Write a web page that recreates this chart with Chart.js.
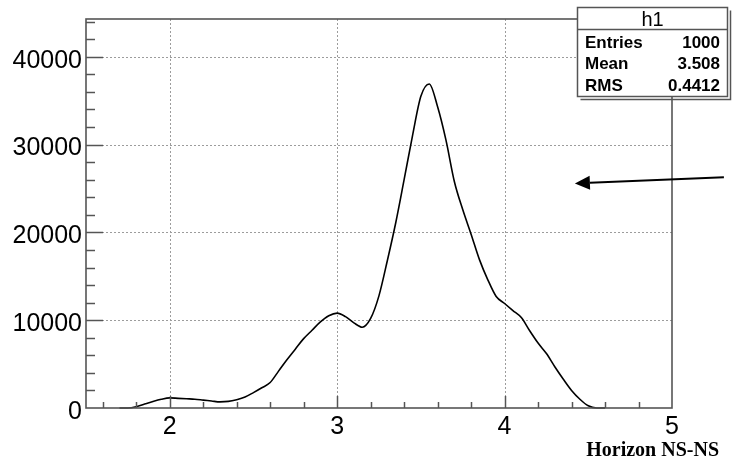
<!DOCTYPE html>
<html>
<head>
<meta charset="utf-8">
<script src="https://cdn.jsdelivr.net/npm/chart.js@4/dist/chart.umd.min.js"></script>
<style>
html,body{margin:0;padding:0;background:#fff;}
#wrap{width:733px;height:472px;position:relative;}
</style>
</head>
<body>
<div id="wrap"><canvas id="c" width="733" height="472"></canvas></div>
<script>
// ---- data ----
const xValues = [1.70,1.75,1.80,1.85,1.90,1.95,2.00,2.05,2.10,2.15,2.20,2.25,2.30,2.35,2.40,2.45,2.50,2.55,2.60,2.65,
  2.70,2.75,2.80,2.85,2.90,2.95,3.00,3.05,3.10,3.15,3.20,3.25,3.30,3.35,3.40,3.45,3.50,3.55,3.60,3.65,
  3.70,3.75,3.80,3.85,3.90,3.95,4.00,4.05,4.10,4.15,4.20,4.25,4.30,4.35,4.40,4.45,4.50,4.55,4.60];
const counts = [0,0,150,450,750,1000,1150,1100,1050,1000,900,800,700,750,950,1250,1750,2300,2900,4200,
  5500,6700,7900,8850,9800,10500,10800,10400,9700,9200,10200,12800,16800,21100,26000,31000,35500,36900,34300,30500,
  25800,22600,19800,16900,14600,12700,11900,11100,10300,8800,7400,6200,4700,3300,2000,1000,250,0,0];
const xTickLabels = ['2','3','4','5'];
const yTickLabels = ['0','10000','20000','30000','40000'];
const xRange = [1.5, 5];
const yRange = [0, 44300];
const axisTitle = 'Horizon NS-NS';
const statsTitle = 'h1';
const statsNames = ['Entries','Mean','RMS'];
const statsValues = ['1000','3.508','0.4412'];
const arrowFrom = [5.31, 26270];
const arrowTo = [4.42, 25580];

const rootPlugin = {
  id: 'rootStyle',
  beforeDatasetsDraw(chart) {
    const {ctx, chartArea: a, scales: {x, y}} = chart;
    ctx.save();
    ctx.strokeStyle = '#9c9c9c';
    ctx.lineWidth = 1;
    ctx.setLineDash([2, 2]);
    xTickLabels.forEach(l => {
      const v = +l;
      if (v <= x.min || v >= x.max) return;
      const px = Math.round(x.getPixelForValue(v)) + 0.5;
      ctx.beginPath(); ctx.moveTo(px, a.top); ctx.lineTo(px, a.bottom); ctx.stroke();
    });
    yTickLabels.forEach(l => {
      const v = +l;
      if (v <= y.min || v >= y.max) return;
      const py = Math.round(y.getPixelForValue(v)) + 0.5;
      ctx.beginPath(); ctx.moveTo(a.left, py); ctx.lineTo(a.right, py); ctx.stroke();
    });
    ctx.restore();
  },
  afterDatasetsDraw(chart) {
    const {ctx, chartArea: a, scales: {x, y}} = chart;
    ctx.save();
    // tick marks (inside)
    ctx.strokeStyle = '#555';
    ctx.lineWidth = 1.5;
    ctx.setLineDash([]);
    for (let k = 7; k <= 25; k++) {
      const v = k * 0.2;
      if (v <= x.min + 1e-9 || v >= x.max - 1e-9) continue;
      const major = Math.abs(v - Math.round(v)) < 1e-6;
      const px = Math.round(x.getPixelForValue(v)) + 0.5;
      ctx.beginPath(); ctx.moveTo(px, a.bottom); ctx.lineTo(px, a.bottom - (major ? 12 : 6)); ctx.stroke();
    }
    for (let k = 1; k <= 22; k++) {
      const v = k * 2000;
      if (v >= y.max) continue;
      const major = v % 10000 === 0;
      const py = Math.round(y.getPixelForValue(v)) + 0.5;
      ctx.beginPath(); ctx.moveTo(a.left, py); ctx.lineTo(a.left + (major ? 17 : 9), py); ctx.stroke();
    }
    // frame
    ctx.lineWidth = 1.6;
    ctx.strokeStyle = '#555';
    ctx.strokeRect(a.left, a.top, a.right - a.left, a.bottom - a.top);

    // arrow annotation
    const x0 = x.getPixelForValue(arrowFrom[0]), y0 = y.getPixelForValue(arrowFrom[1]);
    const x1 = x.getPixelForValue(arrowTo[0]), y1 = y.getPixelForValue(arrowTo[1]);
    const ang = Math.atan2(y1 - y0, x1 - x0);
    const hl = 15, hw = 7;
    const bx = x1 - hl * Math.cos(ang), by = y1 - hl * Math.sin(ang);
    ctx.strokeStyle = '#000'; ctx.fillStyle = '#000'; ctx.lineWidth = 2;
    ctx.beginPath(); ctx.moveTo(x0, y0); ctx.lineTo(bx, by); ctx.stroke();
    ctx.beginPath();
    ctx.moveTo(x1, y1);
    ctx.lineTo(bx + hw * Math.sin(ang), by - hw * Math.cos(ang));
    ctx.lineTo(bx - hw * Math.sin(ang), by + hw * Math.cos(ang));
    ctx.closePath(); ctx.fill();

    // stats box
    const bx0 = 577.5, by0 = 7.5, bx1 = 727.5, by1 = 96.5;
    ctx.strokeStyle = '#555'; ctx.lineWidth = 1.5;
    ctx.beginPath(); ctx.moveTo(bx1 + 3, by0 + 3); ctx.lineTo(bx1 + 3, by1 + 3); ctx.lineTo(bx0 + 3, by1 + 3); ctx.stroke();
    ctx.fillStyle = '#fff';
    ctx.fillRect(bx0, by0, bx1 - bx0, by1 - by0);
    ctx.strokeRect(bx0, by0, bx1 - bx0, by1 - by0);
    ctx.beginPath(); ctx.moveTo(bx0, 29.5); ctx.lineTo(bx1, 29.5); ctx.stroke();
    ctx.fillStyle = '#000';
    ctx.textBaseline = 'middle';
    ctx.textAlign = 'center';
    ctx.font = '20px "Liberation Sans", Arial, sans-serif';
    ctx.fillText(statsTitle, (bx0 + bx1) / 2, 20.5);
    ctx.font = 'bold 17px "Liberation Sans", Arial, sans-serif';
    const rows = [43.5, 64, 86];
    statsNames.forEach((n, i) => {
      ctx.textAlign = 'left'; ctx.fillText(n, 585, rows[i]);
      ctx.textAlign = 'right'; ctx.fillText(statsValues[i], 720, rows[i]);
    });

    // axis title
    ctx.font = 'bold 20px "Liberation Serif", "Times New Roman", serif';
    ctx.textAlign = 'right';
    ctx.textBaseline = 'alphabetic';
    ctx.fillText(axisTitle, 719, 456);
    ctx.restore();
  }
};

const tickFont = {family: '"Liberation Sans", Arial, sans-serif', size: 25};

new Chart(document.getElementById('c'), {
  type: 'line',
  data: {
    datasets: [{
      data: xValues.map((v, i) => ({x: v, y: counts[i]})),
      borderColor: '#000',
      borderWidth: 1.6,
      pointRadius: 0,
      fill: false,
      cubicInterpolationMode: 'monotone',
      clip: false
    }]
  },
  options: {
    responsive: false,
    devicePixelRatio: 1,
    animation: false,
    events: [],
    layout: {padding: {top: 19, right: 61, left: 0, bottom: 0}},
    plugins: {legend: {display: false}, tooltip: {enabled: false}, title: {display: false}},
    scales: {
      x: {
        type: 'linear',
        min: xRange[0], max: xRange[1],
        afterBuildTicks: s => { s.ticks = xTickLabels.map(l => ({value: +l})); },
        afterFit: s => { s.height = 64; },
        grid: {display: false, drawTicks: false},
        border: {display: false},
        ticks: {
          autoSkip: false, maxRotation: 0, padding: 4,
          color: '#000',
          font: tickFont,
          callback: v => { const l = xTickLabels.find(t => +t === v); return l === undefined ? '' : l; }
        }
      },
      y: {
        type: 'linear',
        min: yRange[0], max: yRange[1],
        afterBuildTicks: s => { s.ticks = yTickLabels.map(l => ({value: +l})); },
        afterFit: s => { s.width = 86; },
        grid: {display: false, drawTicks: false},
        border: {display: false},
        ticks: {
          autoSkip: false, padding: 4, labelOffset: 4,
          color: '#000',
          font: tickFont,
          callback: v => { const l = yTickLabels.find(t => +t === v); return l === undefined ? '' : l; }
        }
      }
    }
  },
  plugins: [rootPlugin]
});
</script>
</body>
</html>
